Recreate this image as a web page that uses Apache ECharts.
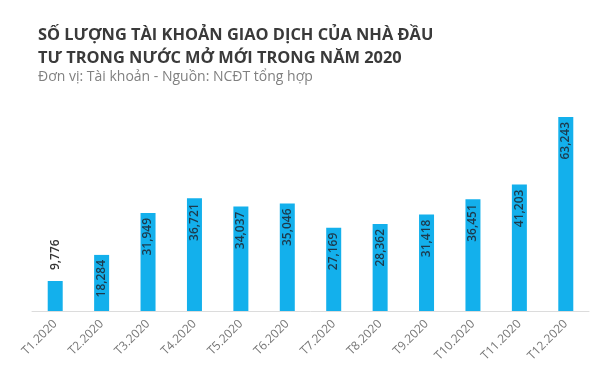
<!DOCTYPE html>
<html><head><meta charset="utf-8">
<script src="https://cdn.jsdelivr.net/npm/echarts@6/dist/echarts.min.js"></script>
<style>html,body{margin:0;padding:0;background:#fff}#c{width:600px;height:388px}</style>
</head><body><div id="c"></div>
<script>
var categories = ['T1.2020','T2.2020','T3.2020','T4.2020','T5.2020','T6.2020','T7.2020','T8.2020','T9.2020','T10.2020','T11.2020','T12.2020'];
var values = [9776,18284,31949,36721,34037,35046,27169,28362,31418,36451,41203,63243];
var titleText = 'SỐ LƯỢNG TÀI KHOẢN GIAO DỊCH CỦA NHÀ ĐẦU\nTƯ TRONG NƯỚC MỞ MỚI TRONG NĂM 2020';
var subText = 'Đơn vị: Tài khoản - Nguồn: NCĐT tổng hợp';

var fmt = function(v){ return v.toLocaleString('en-US'); };
var data = values.map(function(v, i){
  var d = {value: v};
  if (v < 15000) {
    d.label = {position: 'top', align: 'left', verticalAlign: 'middle', distance: 11, color: '#333'};
  }
  return d;
});
var chart = echarts.init(document.getElementById('c'));
chart.setOption({
  animation: false,
  title: {
    text: titleText, left: 33, top: 19,
    textStyle: {fontFamily: 'Open Sans', fontSize: 16.4, fontWeight: 'bold', color: '#3a3a3a', lineHeight: 23},
    subtext: subText,
    subtextStyle: {fontFamily: 'Open Sans', fontSize: 14, color: '#808080'},
    itemGap: 0
  },
  grid: {left: 32, right: 11, top: 117, bottom: 77, containLabel: false},
  xAxis: {
    type: 'category', data: categories,
    axisLine: {lineStyle: {color: '#dcdcdc', width: 1}},
    axisTick: {show: false},
    axisLabel: {rotate: 45, fontFamily: 'Open Sans', fontSize: 12, color: '#777', margin: 11, interval: 0}
  },
  yAxis: {type: 'value', min: 0, max: 63243, show: false, splitLine: {show: false}},
  series: [{
    type: 'bar', data: data, barWidth: 15,
    itemStyle: {color: '#13b0ec'},
    label: {
      show: true, position: 'insideTop', rotate: 90, align: 'right', verticalAlign: 'middle', distance: 5,
      formatter: function(p){ return fmt(p.value); },
      fontFamily: 'Open Sans', fontSize: 12, fontWeight: 600, color: '#1d3a4c'
    }
  }]
});
</script></body></html>
